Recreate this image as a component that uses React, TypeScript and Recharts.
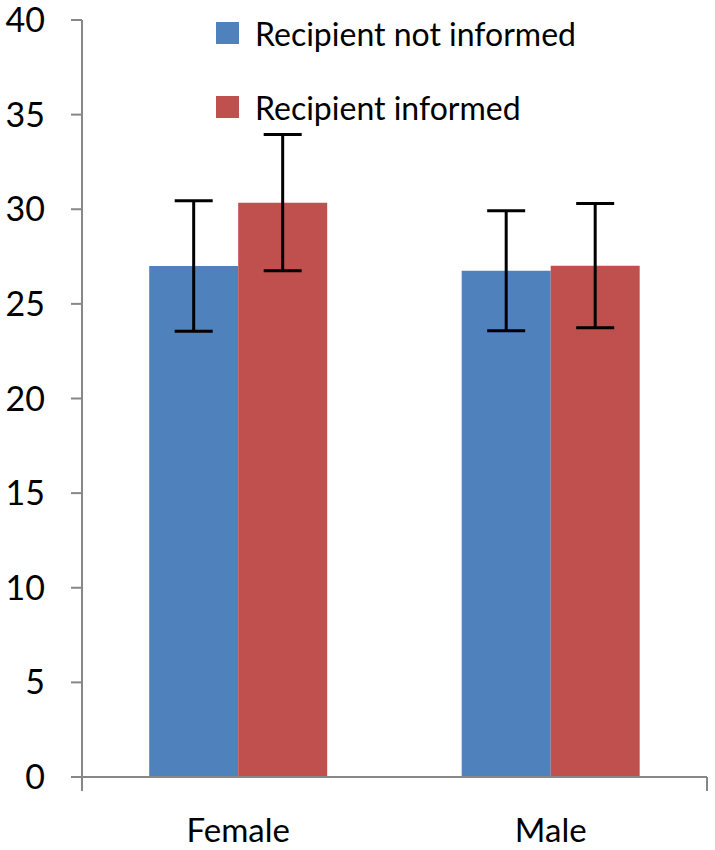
import { Bar, BarChart, ErrorBar, Legend, XAxis, YAxis } from "recharts";

const categories = ["Female", "Male"];
const seriesNames = ["Recipient not informed", "Recipient informed"];
const notInformed = [27.0, 26.75];
const informed = [30.35, 27.02];
const notInformedErr = [3.45, 3.17];
const informedErr = [3.6, 3.28];
const yTicks = [0, 5, 10, 15, 20, 25, 30, 35, 40];
const groupEdges = [0, 1, 2];

const BLUE = "#4f81bd";
const RED = "#c0504d";
const AXIS = "#878787";
const FONT = "Lato, 'Liberation Sans', sans-serif";
const seriesColors = [BLUE, RED];

const data = categories.map((name, i) => ({
  name,
  notInformed: notInformed[i],
  informed: informed[i],
  notInformedErr: notInformedErr[i],
  informedErr: informedErr[i],
}));

// legend keeps series order (recharts would sort it by name)
const ChartLegend = () => (
  <div style={{ fontFamily: FONT, fontSize: 32, color: "#000" }}>
    {seriesNames.map((name, i) => (
      <div key={name} style={{ display: "flex", alignItems: "center", height: 74 }}>
        <span
          style={{
            width: 23,
            height: 22,
            background: seriesColors[i],
            marginRight: 16,
            flex: "none",
          }}
        />
        <span style={{ whiteSpace: "nowrap" }}>{name}</span>
      </div>
    ))}
  </div>
);

export default function App() {
  return (
    <div style={{ position: "absolute", left: 0, top: 0, background: "#fff" }}>
      <BarChart
        width={715}
        height={850}
        data={data}
        margin={{ top: 20, right: 8, bottom: 0, left: 0 }}
        barCategoryGap="21.5%"
        barGap={0}
      >
        {/* axis line plus tick marks between the groups */}
        <XAxis
          xAxisId="a"
          type="number"
          domain={[0, 2]}
          allowDataOverflow
          ticks={groupEdges}
          interval={0}
          tick={() => <g />}
          axisLine={{ stroke: AXIS, strokeWidth: 2 }}
          tickSize={14}
          tickLine={{ stroke: AXIS, strokeWidth: 2 }}
          height={14}
        />
        <XAxis
          xAxisId="b"
          dataKey="name"
          height={59}
          tickLine={false}
          tickSize={0}
          tickMargin={28}
          axisLine={false}
          tick={{ fill: "#000", fontSize: 33, fontFamily: FONT }}
        />
        <YAxis
          domain={[0, 40]}
          ticks={yTicks}
          width={82}
          tickSize={11}
          tickMargin={26}
          axisLine={{ stroke: AXIS, strokeWidth: 2 }}
          tickLine={{ stroke: AXIS, strokeWidth: 2 }}
          tick={{ fill: "#000", fontSize: 34, fontFamily: FONT }}
        />
        <Legend
          layout="vertical"
          align="center"
          verticalAlign="middle"
          content={<ChartLegend />}
          wrapperStyle={{ top: -4, left: 216, width: 460 }}
        />
        <Bar
          xAxisId="b"
          dataKey="notInformed"
          name={seriesNames[0]}
          fill={BLUE}
          isAnimationActive={false}
        >
          <ErrorBar
            dataKey="notInformedErr"
            width={19}
            strokeWidth={3}
            stroke="#000"
            isAnimationActive={false}
          />
        </Bar>
        <Bar
          xAxisId="b"
          dataKey="informed"
          name={seriesNames[1]}
          fill={RED}
          isAnimationActive={false}
        >
          <ErrorBar
            dataKey="informedErr"
            width={19}
            strokeWidth={3}
            stroke="#000"
            isAnimationActive={false}
          />
        </Bar>
      </BarChart>
    </div>
  );
}
